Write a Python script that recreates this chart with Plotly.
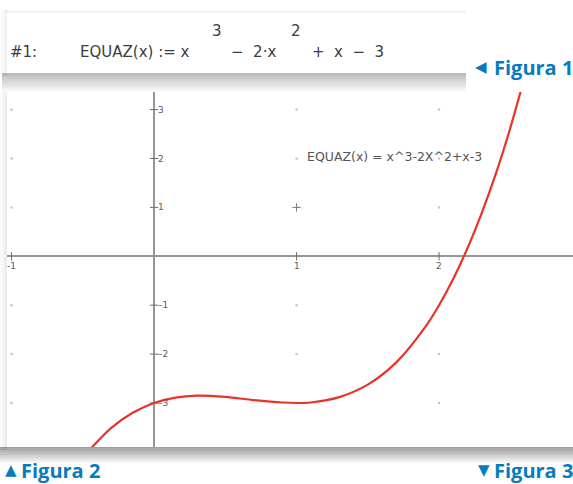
import plotly.graph_objects as go

W, H = 573, 484

# ---- data ----
curve_x = [-0.45, -0.3, -0.15, 0.0, 0.15, 0.3, 0.5, 0.7, 0.9, 1.0, 1.1, 1.3, 1.5,
           1.7, 1.9, 2.0, 2.1, 2.2, 2.3, 2.4, 2.5, 2.6]
curve_y = [-3.95, -3.51, -3.20, -3.0, -2.89, -2.85, -2.875, -2.94, -2.99, -3.0, -2.99,
           -2.88, -2.625, -2.17, -1.46, -1.0, -0.46, 0.17, 0.89, 1.70, 2.625, 3.66]

x_tick_vals = [-1, 1, 2]
x_tick_text = ["-1", "1", "2"]
y_tick_vals = [3, 2, 1, -1, -2, -3]
y_tick_text = ["3", "2", "1", "\u20131", "\u20132", "\u20133"]

grid_x = [-1, 1, 2]
grid_y = [3, 2, 1, -1, -2, -3]

cursor_x = [1]
cursor_y = [1]

graph_label = "EQUAZ(x) = x^3-2X^2+x-3"
graph_label_pos = (1.06, 2.04)

BLUE = "rgb(8,122,192)"
RED = "rgb(232,52,38)"
AXIS = "rgb(150,150,150)"


def px(p):
    return p / W


def py(p):
    return 1 - p / H


fig = go.Figure()

# lattice dots
gx, gy = [], []
for xv in grid_x:
    for yv in grid_y:
        if (xv, yv) != (cursor_x[0], cursor_y[0]):
            gx.append(xv)
            gy.append(yv)
fig.add_trace(go.Scatter(x=gx, y=gy, mode="markers",
                         marker=dict(size=2.5, color="rgb(195,195,195)"),
                         hoverinfo="skip", showlegend=False))

# cursor cross
fig.add_trace(go.Scatter(x=cursor_x, y=cursor_y, mode="markers",
                         marker=dict(symbol="cross-thin", size=6,
                                     line=dict(color="rgb(120,120,120)", width=1)),
                         hoverinfo="skip", showlegend=False))

# tick marks on the axes
fig.add_trace(go.Scatter(x=x_tick_vals, y=[0] * len(x_tick_vals), mode="markers",
                         marker=dict(symbol="line-ns", size=6,
                                     line=dict(color="rgb(110,110,110)", width=1)),
                         hoverinfo="skip", showlegend=False))
fig.add_trace(go.Scatter(x=[0] * len(y_tick_vals), y=y_tick_vals, mode="markers",
                         marker=dict(symbol="line-ew", size=6,
                                     line=dict(color="rgb(110,110,110)", width=1)),
                         hoverinfo="skip", showlegend=False))

# the curve
fig.add_trace(go.Scatter(x=curve_x, y=curve_y, mode="lines",
                         line=dict(color=RED, width=2.2, shape="spline", smoothing=0.8),
                         hoverinfo="skip", showlegend=False))

annotations = []
for v, t in zip(x_tick_vals, x_tick_text):
    annotations.append(dict(x=v, y=0, xref="x", yref="y", text=t, showarrow=False,
                            xanchor="center", yanchor="top", yshift=-3,
                            font=dict(family="DejaVu Sans", size=9, color="rgb(90,90,90)")))
for v, t in zip(y_tick_vals, y_tick_text):
    annotations.append(dict(x=0, y=v, xref="x", yref="y", text=t, showarrow=False,
                            xanchor="left", yanchor="middle", xshift=2,
                            font=dict(family="DejaVu Sans", size=9, color="rgb(90,90,90)")))

annotations.append(dict(x=graph_label_pos[0], y=graph_label_pos[1], xref="x", yref="y",
                        text=graph_label, showarrow=False, xanchor="left", yanchor="middle",
                        font=dict(family="DejaVu Sans", size=12.5, color="rgb(85,85,85)")))

# Figura 1 formula text
TXT = dict(family="DejaVu Sans", size=15, color="rgb(60,60,60)")
pieces = [("#1:", 8, 52), ("EQUAZ(x) := x", 78, 52), ("\u2212  2\u00b7x", 229, 52),
          ("+  x  \u2212  3", 310, 52)]
for t, xx, yy in pieces:
    annotations.append(dict(x=px(xx), y=py(yy), xref="paper", yref="paper", text=t,
                            showarrow=False, xanchor="left", yanchor="middle", font=TXT))
for t, xx, yy in [("3", 217, 31), ("2", 296, 31)]:
    annotations.append(dict(x=px(xx), y=py(yy), xref="paper", yref="paper", text=t,
                            showarrow=False, xanchor="center", yanchor="middle", font=TXT))

LBL = dict(family="Open Sans", size=20, color=BLUE)
TRI = dict(family="DejaVu Sans", size=15, color=BLUE)
annotations += [
    dict(x=px(481), y=py(67), text="\u25c0", font=TRI, xanchor="center"),
    dict(x=px(575), y=py(67), text="<b>Figura 1</b>", font=LBL, xanchor="right"),
    dict(x=px(11), y=py(470), text="\u25b2", font=TRI, xanchor="center"),
    dict(x=px(19), y=py(470), text="<b>Figura 2</b>", font=LBL, xanchor="left"),
    dict(x=px(484), y=py(470), text="\u25bc", font=TRI, xanchor="center"),
    dict(x=px(575), y=py(470), text="<b>Figura 3</b>", font=LBL, xanchor="right"),
]
for a in annotations[-6:]:
    a.update(xref="paper", yref="paper", showarrow=False, yanchor="middle")

# shadows (decorative gradients)
shapes = []


def band(x0, x1, y0, y1, steps, vertical, maxalpha):
    for i in range(steps):
        a = maxalpha * (1 - i / steps)
        if vertical:  # fading downward from y0
            yy0 = y0 + (y1 - y0) * i / steps
            yy1 = y0 + (y1 - y0) * (i + 1) / steps
            shapes.append(dict(type="rect", xref="paper", yref="paper", layer="below",
                               x0=px(x0), x1=px(x1), y0=py(yy1), y1=py(yy0),
                               line=dict(width=0), fillcolor=f"rgba(0,0,0,{a:.3f})"))
        else:  # fading leftward from x1
            xx1 = x1 - (x1 - x0) * i / steps
            xx0 = x1 - (x1 - x0) * (i + 1) / steps
            shapes.append(dict(type="rect", xref="paper", yref="paper", layer="below",
                               x0=px(xx0), x1=px(xx1), y0=py(y1), y1=py(y0),
                               line=dict(width=0), fillcolor=f"rgba(0,0,0,{a:.3f})"))


# shadow under Figura 1 box
band(2, 466, 73, 92, 10, True, 0.26)
# left shadow of Figura 1 box
band(0, 7, 10, 76, 5, False, 0.06)
# top shadow of Figura 1 box
shapes.append(dict(type="rect", xref="paper", yref="paper", layer="below",
                   x0=px(5), x1=px(466), y0=py(13), y1=py(10),
                   line=dict(width=0), fillcolor="rgba(0,0,0,0.04)"))
# left shadow of graph panel
band(0, 7, 92, 450, 5, False, 0.08)
# shadow under graph panel
band(0, 573, 447, 463, 10, True, 0.38)

fig.update_layout(
    width=W, height=H,
    margin=dict(l=0, r=0, t=0, b=0),
    paper_bgcolor="white",
    plot_bgcolor="white",
    showlegend=False,
    annotations=annotations,
    shapes=shapes,
    xaxis=dict(domain=[px(7), 1], range=[-1.032, 2.94], showgrid=False,
               zeroline=True, zerolinecolor=AXIS, zerolinewidth=2,
               showticklabels=False, ticks="", showline=False, fixedrange=True),
    yaxis=dict(domain=[py(447), py(92)], range=[-3.9, 3.36], showgrid=False,
               zeroline=True, zerolinecolor=AXIS, zerolinewidth=2,
               showticklabels=False, ticks="", showline=False, fixedrange=True),
)

fig.write_html(
    "out.html",
    config={"displayModeBar": False},
    post_script="document.body.style.margin='0px';document.body.style.overflow='hidden';",
)
